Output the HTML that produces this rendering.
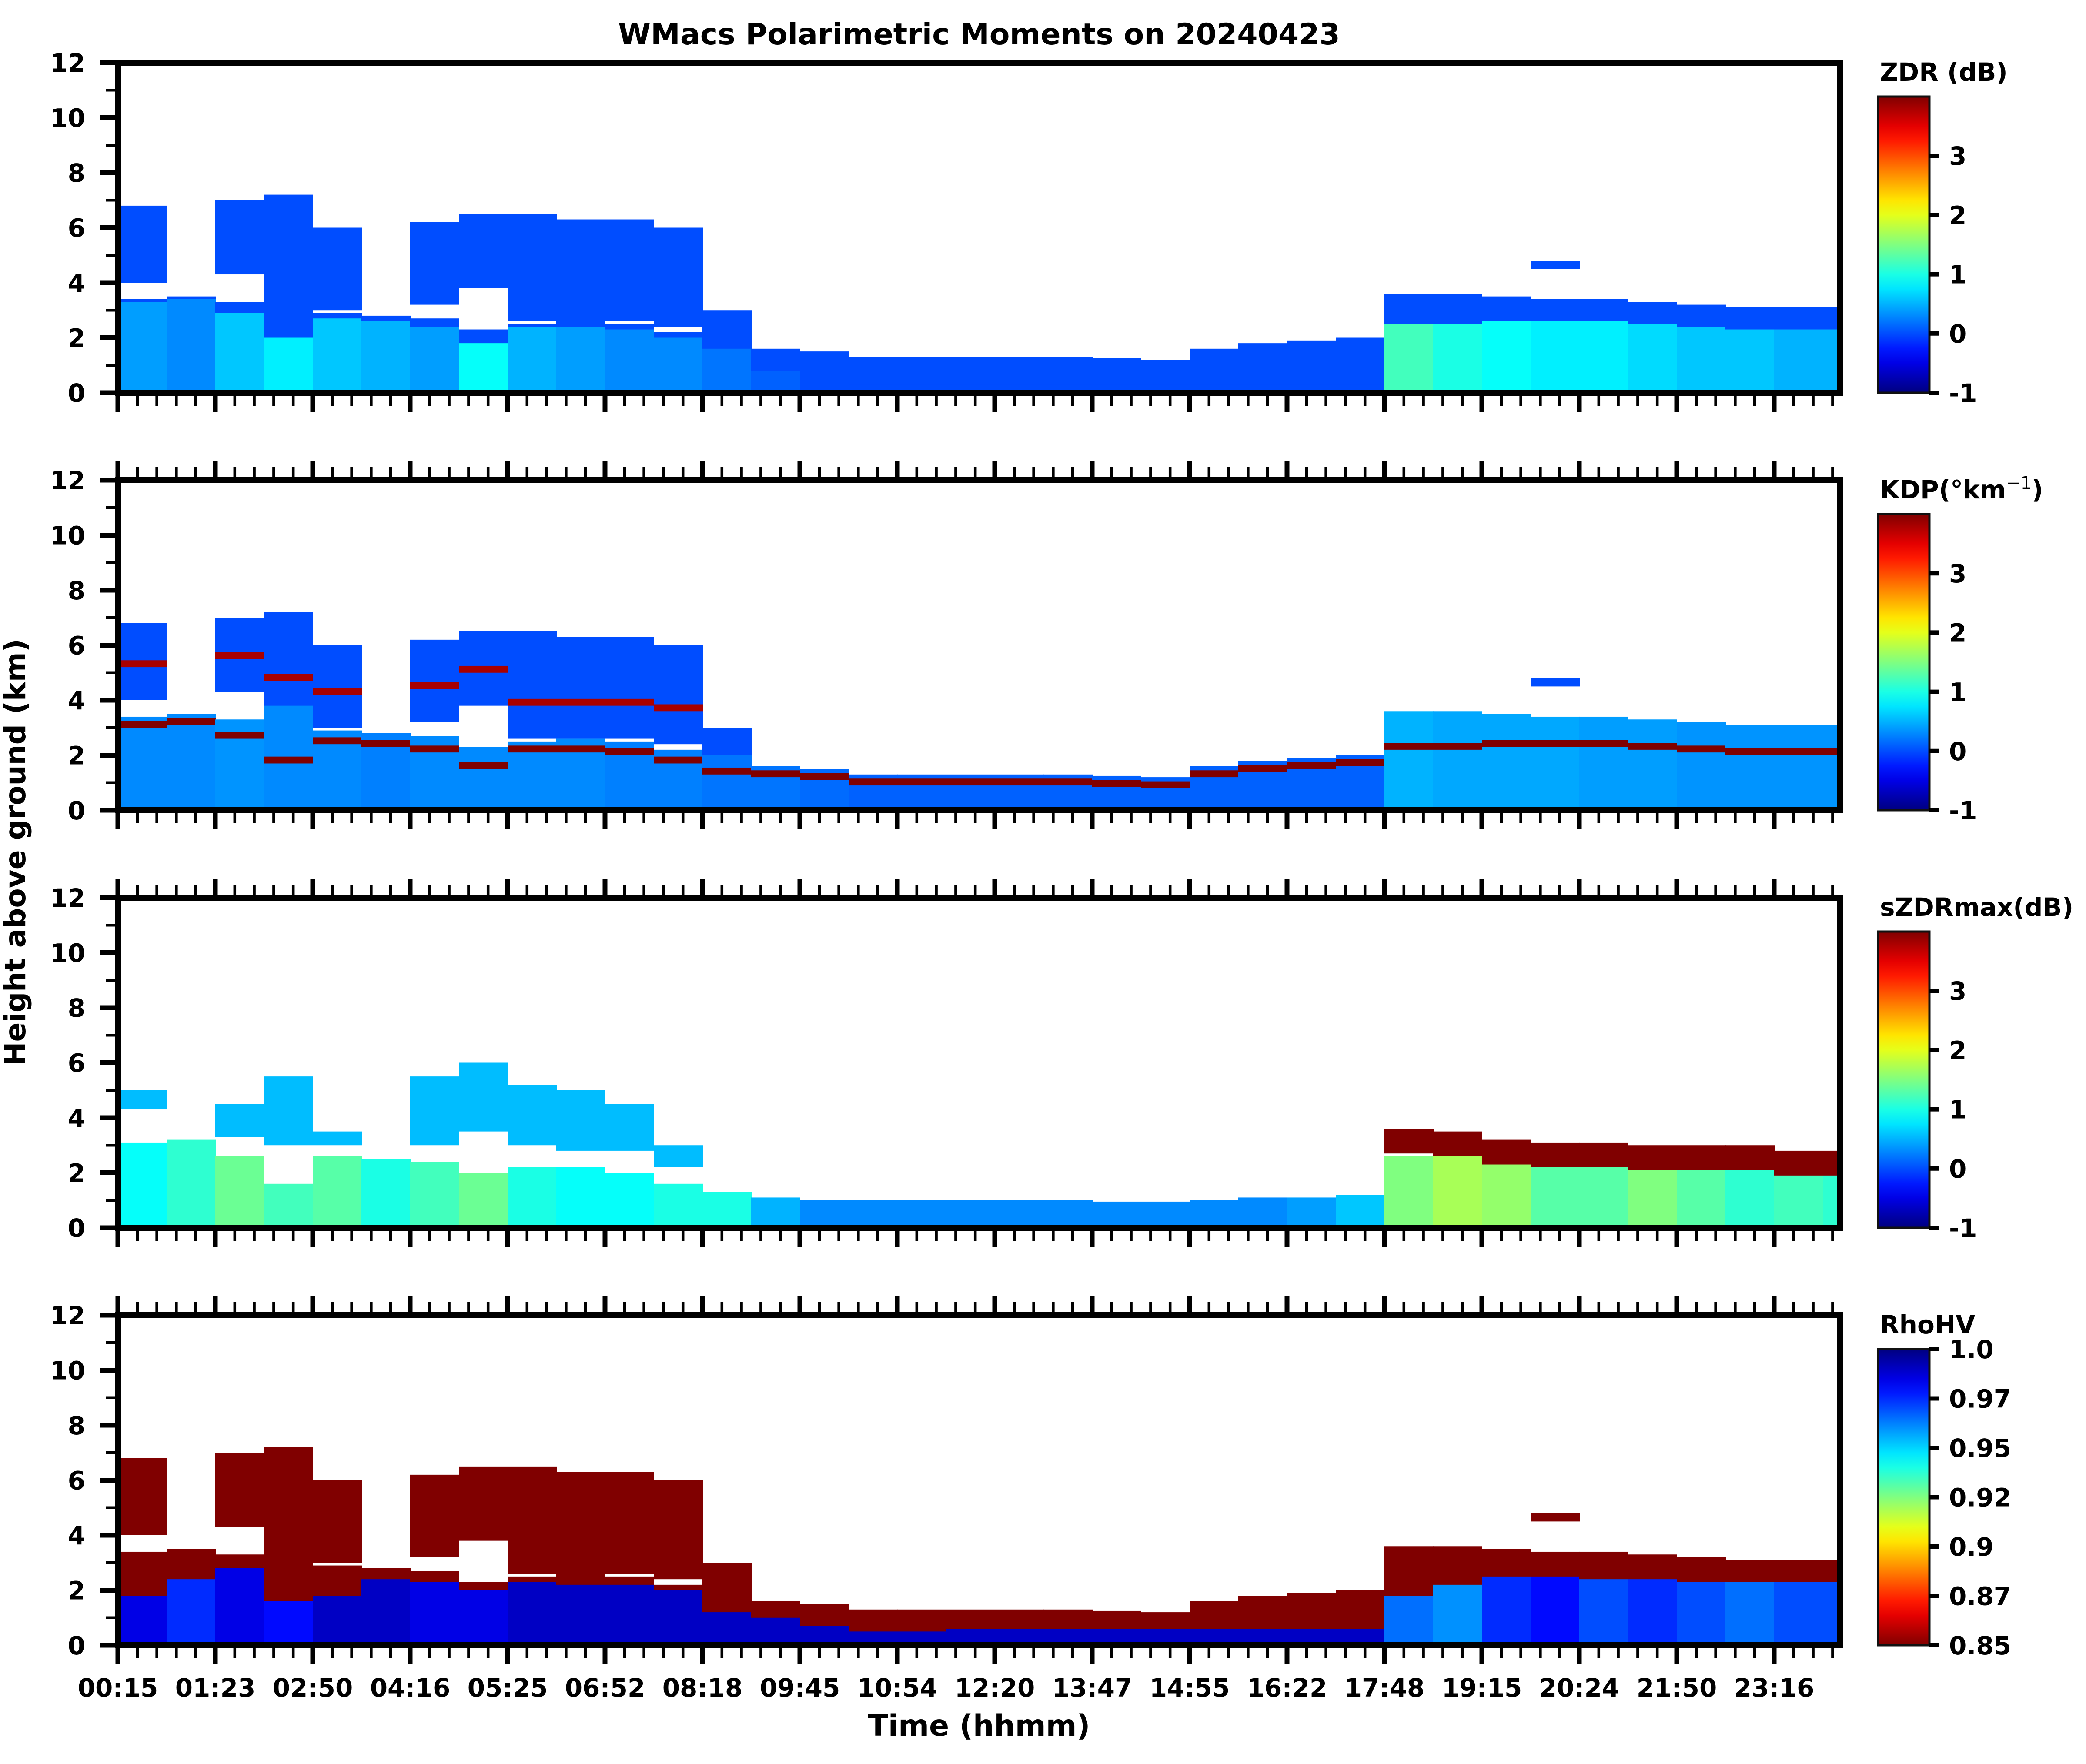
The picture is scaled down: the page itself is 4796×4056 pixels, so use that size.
<!DOCTYPE html>
<html><head><meta charset="utf-8"><style>
html,body{margin:0;padding:0;background:#fff;}
svg{display:block;font-family:"DejaVu Sans","Liberation Sans",sans-serif;font-weight:bold;}
</style></head><body>
<svg id="fig" xmlns="http://www.w3.org/2000/svg" width="4796" height="4056" viewBox="0 0 4796 4056">
<text x="2251" y="102" font-size="68" text-anchor="middle">WMacs Polarimetric Moments on 20240423</text>
<text transform="translate(58,1960) rotate(-90)" font-size="66" text-anchor="middle">Height above ground (km)</text>
<text x="2251" y="3991" font-size="68" text-anchor="middle">Time (hhmm)</text>
<g id="panels"></g>
</svg>
<script>
// ---- data (36 columns, each 0.5 tick-interval wide) ----
const timeLabels = ["00:15","01:23","02:50","04:16","05:25","06:52","08:18","09:45","10:54","12:20","13:47","14:55","16:22","17:48","19:15","20:24","21:50","23:16"];
const yTicks = [0,2,4,6,8,10,12];
const cloudLowTop = [3.4,3.5,3.3,3.8,2.9,2.8,2.7,2.3,2.5,2.6,2.5,2.2,2.0,1.6,1.5,1.3,1.3,1.3,1.3,1.3,1.25,1.2,1.6,1.8,1.9,2.0,3.6,3.6,3.5,3.4,3.4,3.3,3.2,3.1,3.1,3.1];
const upBase = [4.0,0,4.3,3.5,3.0,0,3.2,3.8,2.6,2.6,2.6,2.4,1.8,0,0,0,0,0,0,0,0,0,0,0,0,0,0,0,0,4.5,0,0,0,0,0,0];
const upTop  = [6.8,0,7.0,7.2,6.0,0,6.2,6.5,6.5,6.3,6.3,6.0,3.0,0,0,0,0,0,0,0,0,0,0,0,0,0,0,0,0,4.8,0,0,0,0,0,0];
const zdrLowTop = [3.3,3.4,2.9,2.0,2.7,2.6,2.4,1.8,2.4,2.4,2.3,2.0,1.6,0.8,0.5,0.3,0.3,0.3,0.3,0.3,0.3,0.3,0.3,0.3,0.3,0.3,2.5,2.5,2.6,2.6,2.6,2.5,2.4,2.3,2.3,2.3];
const zdrLowVal = [0.4,0.3,0.6,0.8,0.6,0.5,0.4,0.9,0.5,0.4,0.3,0.3,0.2,0.1,0.0,0.0,0.0,0.0,0.0,0.0,0.0,0.0,0.0,0.0,0.0,0.0,1.2,1.0,0.9,0.8,0.8,0.7,0.6,0.6,0.5,0.5];
const kdpLowVal = [0.3,0.3,0.35,0.3,0.3,0.25,0.3,0.3,0.3,0.3,0.25,0.25,0.2,0.2,0.15,0.1,0.1,0.1,0.1,0.1,0.1,0.1,0.1,0.1,0.1,0.1,0.5,0.45,0.45,0.45,0.4,0.4,0.35,0.35,0.35,0.35];
const szdrUpTop = [5.0,0,4.5,5.5,3.5,0,5.5,6.0,5.2,5.0,4.5,3.0,0,0,0,0,0,0,0,0,0,0,0,0,0,0,0,0,0,0,0,0,0,0,0,0];
const szdrUpBase= [4.3,0,3.3,3.0,3.0,0,3.0,3.5,3.0,2.8,2.8,2.2,0,0,0,0,0,0,0,0,0,0,0,0,0,0,0,0,0,0,0,0,0,0,0,0];
const szdrLowTop= [3.1,3.2,2.6,1.6,2.6,2.5,2.4,2.0,2.2,2.2,2.0,1.6,1.3,1.1,1.0,1.0,1.0,1.0,1.0,1.0,0.95,0.95,1.0,1.1,1.1,1.2,2.6,2.9,2.9,2.8,2.7,2.7,2.6,2.6,2.5,2.5];
const szdrLowVal= [0.9,1.1,1.4,1.2,1.3,1.0,1.2,1.4,1.0,0.9,0.9,1.0,1.0,0.5,0.3,0.3,0.3,0.3,0.3,0.3,0.3,0.3,0.3,0.3,0.4,0.6,1.5,1.7,1.6,1.3,1.3,1.5,1.3,1.1,1.2,1.1];
const szdrRedTop = [0,0,0,0,0,0,0,0,0,0,0,0,0,0,0,0,0,0,0,0,0,0,0,0,0,0,3.6,3.5,3.2,3.1,3.1,3.0,3.0,3.0,2.8,2.8];
const rhoBlueTop = [1.8,2.4,2.8,1.6,1.8,2.4,2.3,2.0,2.3,2.2,2.2,2.0,1.2,1.0,0.7,0.5,0.5,0.6,0.6,0.6,0.6,0.6,0.6,0.6,0.6,0.6,1.8,2.2,2.5,2.5,2.4,2.4,2.3,2.3,2.3,2.3];
const rhoBlueVal = [0.985,0.975,0.985,0.98,0.99,0.99,0.985,0.985,0.99,0.99,0.99,0.99,0.99,0.99,0.99,0.99,0.99,0.99,0.99,0.99,0.99,0.99,0.99,0.99,0.99,0.99,0.965,0.96,0.975,0.98,0.97,0.975,0.97,0.965,0.97,0.97];
const zdrTicks = [-1,0,1,2,3];
const rhoTicks = [0.85,0.875,0.9,0.925,0.95,0.975,1.0];
const rhoTickLabels = ["0.85","0.87","0.9","0.92","0.95","0.97","1.0"];

// ---- layout ----
const NS="http://www.w3.org/2000/svg";
const L=271,R=4231,TOP0=144,PH=759,GAP=960,MAJ=224,CBX=4318,CBW=118;
const svg=document.getElementById('panels');
function xs(u){return L+MAJ*u;}
function mk(tag,at,parent){const e=document.createElementNS(NS,tag);for(const k in at)e.setAttribute(k,at[k]);(parent||svg).appendChild(e);return e;}
function jet(t){t=Math.max(0,Math.min(1,t));const c=v=>Math.round(255*Math.max(0,Math.min(1,v)));return `rgb(${c(1.5-Math.abs(4*t-3))},${c(1.5-Math.abs(4*t-2))},${c(1.5-Math.abs(4*t-1))})`;}

const panels=[
 {name:'zdr',title:'ZDR (dB)',vmin:-1,vmax:4,rev:false},
 {name:'kdp',title:'KDP',vmin:-1,vmax:4,rev:false},
 {name:'szdrmax',title:'sZDRmax(dB)',vmin:-1,vmax:4,rev:false},
 {name:'rhohv',title:'RhoHV',vmin:0.85,vmax:1.0,rev:true}
];

const defs=mk('defs',{});
panels.forEach((p,i)=>{
  const T=TOP0+GAP*i,B=T+PH;
  const ys=h=>B-h/12*PH;
  const col=v=>{let t=(v-p.vmin)/(p.vmax-p.vmin);if(p.rev)t=1-t;return jet(t);};
  const g=mk('g',{});
  
  
  const cp=mk('clipPath',{id:'cp'+i},defs);mk('rect',{x:L,y:T,width:R-L,height:PH},cp);
  const dg=mk('g',{'clip-path':`url(#cp${i})`},g);
  
  
  function cell(c,h0,h1,v,nm){ if(h1<=h0)return; const r=mk('rect',{x:xs(c*0.5),y:ys(h1),width:MAJ*0.5+1,height:ys(h0)-ys(h1),fill:col(v)},dg);
    
    }
  for(let c=0;c<36;c++){
    if(p.name==='zdr'){
      cell(c,upBase[c],upTop[c],0,'upper-cloud-cell');
      cell(c,0,cloudLowTop[c],0,'low-cloud-cell');
      cell(c,0,zdrLowTop[c],zdrLowVal[c],'low-rain-cell');
    } else if(p.name==='kdp'){
      cell(c,upBase[c],upTop[c],0,'upper-cloud-cell');
      cell(c,0,cloudLowTop[c],kdpLowVal[c],'low-cloud-cell');
      const bt=(c>=13&&c<=25)?cloudLowTop[c]-0.15:zdrLowTop[c]-0.05;
      cell(c,bt-0.25,bt,4,'melting-band-cell');
      if(upTop[c]>0&&c<12)cell(c,upBase[c]+1.2,upBase[c]+1.45,3.8,'upper-band-cell');
    } else if(p.name==='szdrmax'){
      cell(c,szdrUpBase[c],szdrUpTop[c],0.55,'upper-cloud-cell');
      cell(c,0,szdrLowTop[c],szdrLowVal[c],'low-cloud-cell');
      cell(c,szdrRedTop[c]-0.9,szdrRedTop[c],4,'red-top-cell');
    } else {
      cell(c,upBase[c],upTop[c],0.85,'upper-cloud-cell');
      cell(c,0,cloudLowTop[c],0.85,'low-cloud-cell');
      cell(c,0,rhoBlueTop[c],rhoBlueVal[c],'blue-core-cell');
    }
  }
  const sp=mk('rect',{x:L,y:T,width:R-L,height:PH,fill:'none',stroke:'#000','stroke-width':14},g);
  
  
  for(let h=0;h<=12;h++){
    const major=h%2===0;
    mk('line',{x1:major?229:243,x2:L,y1:ys(h),y2:ys(h),stroke:'#000','stroke-width':major?11:6.5},g);
  }
  yTicks.forEach(h=>{
    const t=mk('text',{x:196,y:ys(h)+21,'font-size':58,'text-anchor':'end'},g);t.textContent=h;
    
    
  });
  for(let k=0;;k++){
    const x=L+MAJ/5*k; if(x>R+1)break;
    const major=k%5===0;const len=major?44:30;
    mk('line',{x1:x,x2:x,y1:B,y2:B+len,stroke:'#000','stroke-width':major?11:6.5},g);
    if(i>0)mk('line',{x1:x,x2:x,y1:T,y2:T-len,stroke:'#000','stroke-width':major?11:6.5},g);
  }
  if(i===3){
    timeLabels.forEach((s,k)=>{
      const t=mk('text',{x:xs(k),y:3901,'font-size':58,'text-anchor':'middle'},g);t.textContent=s;
      
      
    });
  }
  const cT=T+78,cB=B;
  const gr=mk('linearGradient',{id:'gr'+i,x1:0,y1:1,x2:0,y2:0},defs);
  for(let s=0;s<=20;s++){const t=s/20;mk('stop',{offset:t,'stop-color':jet(p.rev?1-t:t)},gr);}
  const cb=mk('rect',{x:CBX,y:cT,width:CBW,height:cB-cT,fill:`url(#gr${i})`,stroke:'#111','stroke-width':5},g);
  
  
  const ticks=p.rev?rhoTicks:zdrTicks;
  ticks.forEach((v,k)=>{
    const y=cB-(v-p.vmin)/(p.vmax-p.vmin)*(cB-cT);
    mk('line',{x1:CBX+CBW,x2:CBX+CBW+22,y1:y,y2:y,stroke:'#000','stroke-width':10},g);
    const t=mk('text',{x:4481,y:y+21,'font-size':58},g);
    t.textContent=p.rev?rhoTickLabels[k]:String(v);
    
    
  });
  const tt=mk('text',{x:4322,y:T+42,'font-size':58},g);
  if(p.name==='kdp'){
    tt.textContent='KDP(°km';
    const sup=mk('tspan',{dy:-22,'font-size':40,'font-weight':'normal'},tt);sup.textContent='−1';
    const cl=mk('tspan',{dy:22},tt);cl.textContent=')';
  } else tt.textContent=p.title;
  
  
});
</script>
</body></html>
